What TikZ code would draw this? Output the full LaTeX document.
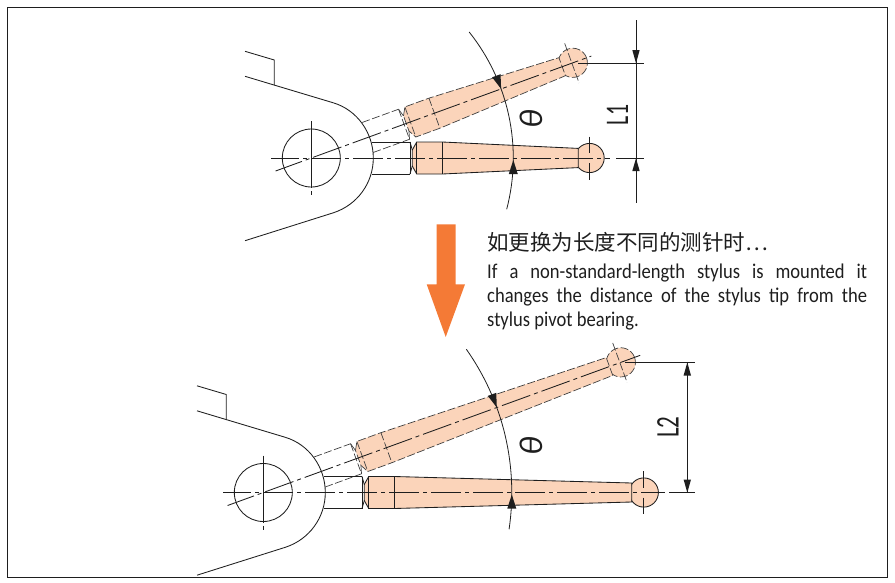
\documentclass[tikz,border=0pt]{standalone}
\usepackage{fontspec}
\setmainfont{Carlito}[FakeStretch=0.885]
\newfontfamily\dimfont{Carlito}
\newfontfamily\cjkfont{Noto Sans CJK SC}
\definecolor{probefill}{HTML}{FBD4BA}
\definecolor{bigarrow}{HTML}{F47A36}
\definecolor{lineink}{HTML}{1E1E1E}
\tikzset{
  ink/.style={draw=lineink,line width=0.85pt},
  hidden/.style={draw=lineink!85,line width=0.7pt,dash pattern=on 8pt off 2.5pt},
  axisline/.style={draw=lineink,line width=0.85pt,dash pattern=on 30pt off 4pt on 4pt off 4pt,dash phase=2pt},
  fine/.style={draw=lineink,line width=0.8pt},
  headfill/.style={fill=lineink,draw=none},
  dimlabel/.style={rotate=90,inner sep=0pt,text=lineink},
}
\newcommand\probeshape[6]{%
  \path[fill=probefill,#4] (#1,0) circle[radius=14.6];
  \path[fill=probefill,#4] (101,-8) -- (105.4,-16) -- (131,-16) -- (#2,-#3) -- (#2,#3) -- (131,16) -- (105.4,16) -- (101,8) -- cycle;
  \path[#4] (105.4,-16) -- (105.4,16);
  \path[#4] (131,-16) -- (131,16);
  \path[#4] (#6,-16) -- (98.7,-16) (#6,16) -- (98.7,16);
  \path[#4] (98.7,-16) -- (98.7,16);
  \path[#4] (98.7,-16) -- (101,-8) (98.7,16) -- (101,8);
}
\newcommand\gauge[9]{%
\begin{scope}[shift={(#1,#2)}]
  \path[ink] (-66.3,-106.7) -- (-37,-98) -- (-37,-73);
  \path[ink] (-66.3,-81.7) -- (22,-55.2) .. controls (46,-48) and (62,-25) .. (62,0)
     .. controls (62,25) and (46,47) .. (22,54.8) -- (-66.3,82.7);
  \path[ink] (0,0) circle[radius=29];
  \begin{scope}[rotate=20]
    \probeshape{#3}{#4}{#5}{hidden}{#9}{60}
    \path[hidden] (#3-1,-21) -- (#3-1,21);
    \path[axisline] (-38,0) -- (#9,0);
    \path[headfill] (#6,0) -- (#6-4.5,-14) -- (#6+4.5,-14) -- cycle;
  \end{scope}
  \probeshape{#3}{#4}{#5}{ink}{#9}{61}
  \path[ink] (#3,-21.5) -- (#3,-5) (#3,5) -- (#3,21.5);
  \path[axisline] (-40,0) -- (#9+0.7,0);
  \path[ink] (0,-37) -- (0,30) (0,33) -- (0,37);
  \path[headfill] (#6,2) -- (#6-4.5,16) -- (#6+4.5,16) -- cycle;
  \path[fine] (#7:#6) arc[start angle=#7,end angle=-#8,radius=#6];
\end{scope}}
\begin{document}
\begin{tikzpicture}[x=1pt,y=-1pt]
\useasboundingbox (0,0) rectangle (895,582);
\path[draw=lineink,line width=1pt] (7,7) rectangle (887,577);
%
\gauge{311.3}{158}{278.3}{267}{9.6}{202}{14.7}{38.6}{298}
\gauge{263.3}{492.5}{380.5}{368.4}{9.5}{248.5}{8.5}{35.2}{401}
%
\coordinate (e1a) at (578,63.3); \coordinate (e1b) at (644,63.3);
\coordinate (e1c) at (616,158.3); \coordinate (e1d) at (643.5,158.3);
\coordinate (d1a) at (636,20); \coordinate (d1b) at (636,203);
\path[ink] (e1a) -- (e1b) (e1c) -- (e1d) (d1a) -- (d1b);
\path[headfill] (636,63.3) -- (632.3,50) -- (639.7,50) -- cycle;
\path[headfill] (636,158.3) -- (632.3,171) -- (639.7,171) -- cycle;
\coordinate (e2a) at (625,362.3); \coordinate (e2b) at (695,362.3);
\coordinate (e2c) at (669.3,492.7); \coordinate (e2d) at (695,492.7);
\coordinate (d2a) at (687.3,362.3); \coordinate (d2b) at (687.3,492.7);
\path[ink] (e2a) -- (e2b) (e2c) -- (e2d) (d2a) -- (d2b);
\path[headfill] (d2a) -- (683.6,375.5) -- (691,375.5) -- cycle;
\path[headfill] (d2b) -- (683.6,479.5) -- (691,479.5) -- cycle;
%
\node[dimlabel,font=\dimfont\fontsize{33}{33}\selectfont] (l1) at (617.5,115) {\scalebox{0.66}[1]{L1}};
\node[dimlabel,font=\dimfont\fontsize{33}{33}\selectfont] (l2) at (668,427) {\scalebox{0.7}[1]{L2}};
\node[dimlabel,font=\dimfont\fontsize{33}{33}\selectfont\itshape] (t1) at (531,119) {θ};
\node[dimlabel,font=\dimfont\fontsize{33}{33}\selectfont\itshape] (t2) at (531.5,446) {θ};
%
\path[fill=bigarrow] (436.7,224.3) -- (455.7,224.3) -- (455.7,284.3) -- (465,284.3) -- (445.7,337) -- (426.7,284.3) -- (436.7,284.3) -- cycle;
%
\node[anchor=west,inner sep=0pt,text=lineink,font=\cjkfont\fontsize{21.5}{24}\selectfont] (zh) at (487,242) {如更换为长度不同的测针时⋯};
\node[anchor=north west,inner sep=0pt,text=lineink,font=\fontsize{21}{24}\selectfont,align=left] (en) at (487,264)
 {\makebox[380pt][s]{If a non-standard-length stylus is mounted it}\\
  \makebox[380pt][s]{changes the distance of the stylus tip from the}\\
  stylus pivot bearing.};
\end{tikzpicture}
\end{document}
